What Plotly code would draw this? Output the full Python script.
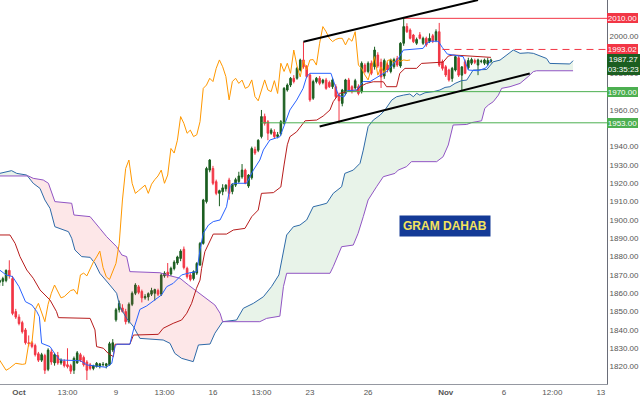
import plotly.graph_objects as go

# ---------------- data (4H bars, index 0 = first bar of Oct 2) ----------------
BAR_START = -6
OPEN = [1866, 1866.5, 1867, 1872.5, 1868, 1850, 1847, 1844, 1840, 1833, 1833, 1831.5, 1827, 1823.5, 1826,
        1818.5, 1828, 1822, 1826, 1822, 1823, 1821, 1820.5, 1818, 1822, 1826.5, 1825, 1822.5, 1821, 1819,
        1820, 1820, 1821, 1820.5, 1821, 1829, 1845.5, 1851, 1852, 1850, 1844.5, 1854, 1860, 1863.5, 1861,
        1857.5, 1858, 1859.5, 1860, 1861.5, 1859.5, 1869.5, 1871.5, 1870.5, 1873.5, 1876.5, 1879, 1884,
        1873.6, 1870, 1868, 1871, 1875.4, 1887.2, 1910, 1927.2, 1928.1, 1920.9, 1914.5, 1915.4, 1917,
        1921.8, 1915.5, 1919, 1921, 1923.5, 1927.2, 1918.5, 1923, 1938.5, 1938, 1945.5, 1956.5, 1953.6,
        1947.3, 1948, 1945.5, 1947, 1952.7, 1970.9, 1973.6, 1977.3, 1977.3, 1981.8, 1987.3, 1983.6, 1979.1,
        1966.4, 1975.5, 1977.3, 1975, 1976.4, 1975, 1972.7, 1972.7, 1968, 1963.6, 1969, 1976.4, 1972.7,
        1972, 1972.7, 1970, 1984.5, 1981, 1985.5, 1983.6, 1990, 1986, 1978.5, 1984.5, 1981, 1983.6, 1988,
        1984, 1996.4, 2005.5, 2003.6, 2000.9, 1996.4, 2001, 1996.4, 1999.1, 1997.3, 2000.5, 1998, 2002.7,
        1986.3, 1983.6, 1981.8, 1977.2, 1981.8, 1988.5, 1979, 1986.3, 1983, 1985.5, 1987, 1984.5, 1986.5,
        1985.5, 1985, 1986.5]
HIGH = [1868, 1869, 1873, 1878, 1869.5, 1851.5, 1848.5, 1845, 1841, 1837, 1834, 1832.5, 1828, 1827.5, 1827,
        1830, 1829.5, 1827.5, 1828, 1824.5, 1824, 1830, 1821.5, 1825.5, 1828.5, 1827.5, 1826, 1823.5, 1822,
        1821, 1822.5, 1822, 1822.5, 1822, 1833.5, 1835, 1852, 1856, 1854, 1851.5, 1855, 1861, 1865.5,
        1864.5, 1862, 1859.5, 1860.5, 1863, 1862.5, 1862.5, 1871, 1872, 1876.5, 1874.5, 1878, 1880.5, 1884,
        1885.5, 1874.5, 1871, 1872.5, 1877, 1888, 1911.5, 1929, 1933.2, 1929.5, 1922, 1916.5, 1919.5,
        1919.5, 1923, 1920, 1923, 1926.3, 1930.5, 1928, 1925, 1940, 1940, 1944, 1960, 1958, 1954.5, 1950,
        1949.5, 1948, 1954.5, 1972.5, 1974.5, 1978, 1979, 1983.5, 1988, 1997.2, 1984.5, 1980, 1976.5, 1978,
        1978.5, 1977, 1977.5, 1976, 1977.5, 1974, 1969.5, 1971.5, 1977, 1977.5, 1973.5, 1977, 1974, 1986.5,
        1985.5, 1986.5, 1987, 1994.5, 1991.5, 1988, 1988, 1986, 1988, 1988.5, 1989.5, 1997, 2010, 2007.3,
        2004.5, 2001.5, 1999.5, 2002.5, 2000, 2000, 2001.8, 2001.5, 2004, 2007.5, 1987.5, 1984.5, 1982.5,
        1983.5, 1990, 1989.5, 1984, 1987.5, 1988.5, 1988.5, 1988, 1988, 1987.5, 1988, 1988.5, 1988]
LOW = [1864, 1864, 1866, 1868, 1848, 1846, 1842.5, 1838, 1832, 1831, 1830, 1825.5, 1822.5, 1822.5, 1816,
       1817.5, 1821, 1820.5, 1821, 1821, 1819.5, 1819, 1816, 1816, 1821.5, 1822.5, 1820, 1812.7, 1818, 1818,
       1819.5, 1819, 1820, 1819, 1820.5, 1828, 1844.5, 1849.5, 1849.5, 1843, 1843.5, 1853, 1859, 1859.5,
       1855, 1856.5, 1856, 1858.5, 1856, 1858.5, 1858.5, 1868.5, 1868.5, 1869.5, 1872.5, 1875.5, 1877.5,
       1873, 1868, 1866.5, 1867, 1870, 1875, 1886.5, 1909, 1926, 1919, 1913.5, 1907.5, 1913.5, 1915.5,
       1911, 1914, 1918, 1920, 1922.5, 1919.5, 1917.5, 1922, 1935.5, 1937, 1944.5, 1951.5, 1943.5, 1946.5,
       1944.5, 1944.5, 1946, 1952, 1970, 1972.5, 1974.5, 1976.5, 1981, 1982.5, 1977.5, 1964.5, 1965.5,
       1974.5, 1973.5, 1974, 1971, 1972, 1971.5, 1966.5, 1952.7, 1962, 1968, 1970, 1969, 1971, 1968, 1969,
       1980, 1980, 1979, 1982, 1983, 1972, 1977, 1980.5, 1980, 1982.5, 1983.5, 1983, 1995, 2002, 1998.5,
       1996.5, 1995.5, 1998.5, 1995.5, 1994.5, 1996.5, 1996.5, 1997, 1983.5, 1981.5, 1978, 1975.5, 1975.4,
       1981, 1978, 1970, 1979.5, 1982, 1984.5, 1985, 1979, 1985.5, 1984.5, 1984, 1985.5]
CLOSE = [1867, 1868, 1872.5, 1869.5, 1849, 1847, 1843.5, 1839, 1833, 1832.5, 1831, 1826.5, 1823.5, 1826.5,
         1818, 1829, 1822.5, 1826.5, 1822, 1823.5, 1820.5, 1820, 1817.5, 1824.5, 1827.5, 1823.5, 1821, 1818,
         1819, 1820.5, 1821.8, 1821.5, 1821.2, 1821.5, 1832.5, 1833, 1851, 1854.5, 1850, 1844.5, 1854, 1860,
         1864.5, 1860.5, 1857.5, 1858.2, 1859.8, 1861.5, 1862, 1859.5, 1870, 1871, 1869.5, 1873.6, 1877,
         1879.8, 1883, 1874, 1869, 1867.5, 1871.8, 1876.3, 1887.2, 1910.9, 1928.1, 1932.7, 1920, 1914.5,
         1916, 1917.5, 1919, 1914.5, 1919.5, 1922, 1924, 1927.2, 1920, 1924.5, 1939, 1936.5, 1943.5, 1956.4,
         1952.7, 1947.3, 1949, 1945.5, 1946.5, 1953.6, 1971.8, 1973.6, 1977.3, 1975.5, 1982.7, 1987.3,
         1983.6, 1978.2, 1965.5, 1975.5, 1977.3, 1974.5, 1976.3, 1971.8, 1972.7, 1976.4, 1967.3, 1965,
         1970.9, 1976.4, 1970.9, 1970, 1976, 1969, 1985.5, 1981, 1985.5, 1980, 1992.7, 1984, 1978, 1987,
         1981.8, 1987.3, 1987.5, 1984.5, 1996.4, 2005.5, 2002.7, 1999.1, 1997.3, 1998.5, 1999.1, 1999.1,
         1995.5, 1999.1, 1997.5, 2002.7, 1984.5, 1982.7, 1979.1, 1976.4, 1982.7, 1989.1, 1979, 1983.5, 1980,
         1987, 1987.5, 1986, 1987.3, 1986.6, 1987.3, 1987, 1987.27]
BARS = list(range(BAR_START, BAR_START + len(CLOSE)))
LAG = 25  # Ichimoku lagging / leading displacement as drawn (26 - 1)

# Ichimoku lines: (bar index, value)
TENKAN_X = [-6, -4, -2, 0, 2, 4, 5.5, 6.3, 7, 9.6, 11, 12.7, 19, 21, 27, 28.7, 29.7, 30.2, 34.3, 35.4, 37.4,
            39.5, 44.1, 45.7, 47.7, 50.3, 52.9, 55, 56, 57, 58.6, 60.1, 62.2, 64.2, 65.3, 66.3, 70.4, 72.5,
            74.5, 75.6, 77.6, 80.7, 82.3, 83.8, 85.9, 87.9, 89, 90, 96.5, 97.5, 98.8, 100.5, 101.5, 104.4,
            106.5, 108.6, 113.7, 117.4, 118.9, 125, 126.1, 127.5, 129.7, 131, 132.5, 137.4, 139, 142, 144.5,
            146]
TENKAN_V = [1872.7, 1870, 1869.1, 1863.6, 1855.4, 1853.6, 1850, 1847.2, 1832.7, 1830.9, 1827.2, 1823.6,
            1823.2, 1820.9, 1819.6, 1821.8, 1830.9, 1832.2, 1832.2, 1840, 1851.2, 1853.1, 1859.1, 1863.6,
            1865.4, 1870, 1871.2, 1871.8, 1883.6, 1892.7, 1897.2, 1899.1, 1900, 1907.2, 1918.2, 1920, 1920,
            1927.2, 1932.7, 1938.2, 1943.6, 1945.4, 1952.7, 1960, 1965.4, 1971.8, 1978.2, 1980, 1980, 1974.5,
            1968, 1967, 1970.5, 1970.9, 1975.5, 1975.5, 1980.9, 1988.2, 1992.7, 1993.6, 1996.4, 1997.5,
            1997.5, 1994, 1990.5, 1989.1, 1981.8, 1981.4, 1983, 1987.2]
KIJUN_X = [-6, -2.8, -1.2, 0.3, 2.4, 4.4, 6.5, 9.6, 11.6, 12.2, 22, 23.5, 24, 26.1, 27.6, 29.2, 29.7, 34.3,
           35.4, 43.1, 44.6, 47.7, 50.3, 51.9, 53.4, 54.9, 56, 56.5, 57.5, 60.1, 64.2, 66.3, 69.9, 72, 74,
           75, 78.7, 81, 82, 83, 83.8, 85.9, 87.9, 88.5, 92.1, 94.1, 96.2, 97.2, 98.3, 99.3, 101.3, 104.4,
           105.5, 107.5, 109.6, 112.7, 113.7, 116.8, 117.3, 117.8, 119.4, 123, 124.5, 130.2, 131.2, 132.8,
           134.3, 146]
KIJUN_V = [1891.8, 1891.8, 1887.2, 1880, 1872.7, 1868.2, 1861.8, 1856.3, 1850, 1846.7, 1846.3, 1840,
           1830.9, 1830, 1827.2, 1825.4, 1832.2, 1832.2, 1837.2, 1837.6, 1840.9, 1843.6, 1845.4, 1849.1,
           1854.5, 1862.7, 1867.2, 1873.6, 1882.7, 1892.3, 1892.3, 1894.5, 1895.4, 1901.8, 1905.4, 1914.5,
           1914.9, 1918, 1930, 1941, 1945.4, 1948.1, 1952.7, 1954.1, 1954.5, 1956.7, 1960, 1964.5, 1967.2,
           1969.1, 1970, 1970.4, 1972.7, 1974.5, 1975.4, 1975.4, 1972.7, 1972.7, 1976.3, 1980, 1982.7,
           1982.7, 1985.4, 1985.8, 1986.1, 1989.4, 1990, 1988.7]
SPAN_A_X = [-6, -2.3, -0.7, 2.4, 4.4, 6.5, 8, 9.6, 11.1, 15.3, 16.3, 17.3, 19.4, 22, 23.5, 25, 28.1, 30.2,
            31.2, 33.3, 35.4, 37.4, 44.6, 46.7, 48.2, 50.3, 53.9, 55.5, 59.1, 60.6, 63, 67.3, 69.4, 72.5,
            75.6, 78.1, 80.4, 82.3, 82.8, 84.9, 86.9, 89, 91, 93.1, 95.2, 97.2, 99.8, 100.8, 103.4, 105.5,
            106.5, 108, 109.6, 111.7, 113.2, 115.3, 116.8, 118.9, 120.9, 122, 123, 124, 125.6, 128.2, 130.2,
            131.8, 133.3, 134.9, 136.9, 138.5, 140.5, 144.7, 146.7, 148.8, 151.9, 152.9, 155, 157.5, 159.1,
            163.2, 164.2, 169.4, 170.4, 171.4]
SPAN_A_V = [1925.4, 1926.9, 1925.4, 1924.5, 1920, 1917.2, 1910.9, 1906.3, 1896.3, 1893.6, 1890, 1883.6,
            1880, 1879.6, 1876.3, 1870.9, 1864.5, 1860, 1852.7, 1846.3, 1841.8, 1835.4, 1834.5, 1832.7,
            1827.2, 1824.5, 1822.7, 1831.8, 1832.3, 1838.2, 1844.5, 1845.4, 1851.8, 1854.5, 1858.1, 1863.6,
            1870, 1887.2, 1891.8, 1896.3, 1897.2, 1900, 1907.2, 1908.1, 1909.1, 1914.5, 1918.1, 1925.4,
            1927.2, 1930.9, 1938.1, 1950.9, 1954.5, 1957.2, 1960, 1965.4, 1967.2, 1968.1, 1968.7, 1967.2,
            1969.1, 1968.1, 1969.4, 1970, 1970.9, 1972.3, 1972.7, 1974.5, 1976, 1976.3, 1981.8, 1982.1,
            1986.3, 1987.2, 1991.2, 1992.7, 1990.9, 1991.2, 1990.9, 1988.1, 1985.4, 1985.4, 1985.1, 1986.9]
SPAN_B_X = [-6, 2.9, 4.4, 7.5, 9.1, 11.1, 16.3, 17, 22, 24, 25, 27.1, 30.2, 31.8, 33.3, 34.3, 43.6, 45.7,
            49.8, 52.4, 55, 58.6, 60.6, 62.2, 63, 74.5, 76.6, 80.7, 81.8, 82.8, 96.2, 97.2, 99.8, 103.4,
            104.9, 106.5, 108, 110.6, 112.7, 116.3, 117.3, 119.9, 121.4, 129.2, 131.2, 132.8, 134.3, 138.5,
            140, 143.1, 144.1, 145.2, 146.7, 148.3, 149.3, 151.9, 155, 157.5, 159.1, 160.1, 171.4]
SPAN_B_V = [1924, 1924, 1922.7, 1921.8, 1920, 1910, 1909.1, 1902.7, 1901.8, 1897.2, 1895.4, 1890.9,
            1885.4, 1880.9, 1880, 1871.8, 1871.2, 1870, 1868.2, 1864.5, 1860.9, 1856.3, 1853.6, 1849.1,
            1844.5, 1844.5, 1846.3, 1847.5, 1863.6, 1870.9, 1870.9, 1874.5, 1885.4, 1886.3, 1892.7, 1901.8,
            1910.9, 1918.1, 1923.6, 1925.4, 1927.2, 1929.1, 1931.8, 1931.8, 1934.5, 1940.9, 1951.8, 1952.1,
            1953.1, 1954.1, 1960.9, 1962.7, 1964.5, 1968.1, 1971.8, 1972.7, 1974.5, 1978.2, 1980.9, 1981.4,
            1981.4]
CLOUD_CROSS_X = [2.9, 63.0]  # where span A and span B swap places

# Horizontal levels drawn on the chart: value, first bar, style
LEVEL_VALUES = [2010.00, 1993.02, 1970.00, 1953.00]
LEVEL_START = [119, 131, 101, 75]
LEVEL_KIND = ["red", "red_dash", "green", "green"]

# Trend lines: (bar, price) endpoints
UPPER_TREND = [(88, 1997.2), (142, 2020.0)]
LOWER_TREND = [(93, 1951.0), (158, 1979.9)]

LAST_PRICE = 1987.27
COUNTDOWN = "03:35:23"

X_TICK_POS = [0, 15, 30, 45, 60, 75, 90, 108, 132, 150, 165, 180]
X_TICK_TEXT = ["<b>Oct</b>", "13:00", "9", "13:00", "16", "13:00", "23", "26", "<b>Nov</b>", "6", "12:00", "13"]
# price ticks visible on the axis (those hidden behind the level labels are left out)
Y_TICK_VALS = [1820, 1830, 1840, 1850, 1860, 1870, 1880, 1890, 1900, 1910, 1920, 1930, 1940, 1960,
               1980, 2000]
Y_TICK_TEXT = ["1820.00", "1830.00", "1840.00", "1850.00", "1860.00", "1870.00", "1880.00", "1890.00",
               "1900.00", "1910.00", "1920.00", "1930.00", "1940.00", "1960.00", "1980.00", "2000.00"]
X_RANGE = [-5.88, 181.9]
Y_RANGE = [1810.5, 2020.0]

# ---------------- styles ----------------
UP = "#1b5e20"
DOWN = "#f23645"
TENKAN_C = "#2962ff"
KIJUN_C = "#b71c1c"
CHIKOU_C = "#ff9800"
SPAN_A_C = "#2e6aa8"
SPAN_B_C = "#9155c4"
PINK_FILL = "rgba(242, 54, 69, 0.12)"
GREEN_FILL = "rgba(67, 160, 71, 0.12)"
LEVEL_COL = {"red": DOWN, "red_dash": DOWN, "green": "#4caf50"}
FONT = "Liberation Sans"

fig = go.Figure()


def poly(xs_top, vs_top, xs_bot, vs_bot):
    return (list(xs_top) + list(reversed(xs_bot)), list(vs_top) + list(reversed(vs_bot)))


def subset(xs, vs, lo, hi):
    pts = [(x, v) for x, v in zip(xs, vs) if lo <= x <= hi]
    return [p[0] for p in pts], [p[1] for p in pts]


c1, c2 = CLOUD_CROSS_X
regions = [
    (-1e9, c1, GREEN_FILL),
    (c1 - 0.5, c2, PINK_FILL),
    (c2, 1e9, GREEN_FILL),
]
for lo, hi, col in regions:
    ax, av = subset(SPAN_A_X, SPAN_A_V, lo, hi)
    bx, bv = subset(SPAN_B_X, SPAN_B_V, lo, hi)
    px, pv = poly(ax, av, bx, bv)
    fig.add_trace(go.Scatter(x=px, y=pv, fill="toself", fillcolor=col, mode="none",
                             hoverinfo="skip", showlegend=False))

fig.add_trace(go.Scatter(x=SPAN_A_X, y=SPAN_A_V, mode="lines", line=dict(color=SPAN_A_C, width=1),
                         hoverinfo="skip", showlegend=False))
fig.add_trace(go.Scatter(x=SPAN_B_X, y=SPAN_B_V, mode="lines", line=dict(color=SPAN_B_C, width=1),
                         hoverinfo="skip", showlegend=False))

# lagging span: closes drawn LAG bars back
fig.add_trace(go.Scatter(x=[b - LAG for b in BARS], y=CLOSE, mode="lines",
                         line=dict(color=CHIKOU_C, width=1), hoverinfo="skip", showlegend=False))
fig.add_trace(go.Scatter(x=KIJUN_X, y=KIJUN_V, mode="lines", line=dict(color=KIJUN_C, width=1),
                         hoverinfo="skip", showlegend=False))
fig.add_trace(go.Scatter(x=TENKAN_X, y=TENKAN_V, mode="lines", line=dict(color=TENKAN_C, width=1),
                         hoverinfo="skip", showlegend=False))

fig.add_trace(go.Candlestick(
    x=BARS, open=OPEN, high=HIGH, low=LOW, close=CLOSE,
    increasing=dict(line=dict(color=UP, width=1), fillcolor=UP),
    decreasing=dict(line=dict(color=DOWN, width=1), fillcolor=DOWN),
    whiskerwidth=0, hoverinfo="skip", showlegend=False))

shapes = []
for val, start, kind in zip(LEVEL_VALUES, LEVEL_START, LEVEL_KIND):
    shapes.append(dict(type="line", xref="x", yref="y", x0=start, x1=X_RANGE[1], y0=val, y1=val,
                       line=dict(color=LEVEL_COL[kind], width=1,
                                 dash="7px,5px" if kind.endswith("dash") else "solid")))
for (xa, ya), (xb, yb) in (UPPER_TREND, LOWER_TREND):
    shapes.append(dict(type="line", xref="x", yref="y", x0=xa, y0=ya, x1=xb, y1=yb,
                       line=dict(color="#000000", width=2)))

annotations = []
for val, kind in zip(LEVEL_VALUES, LEVEL_KIND):
    annotations.append(dict(xref="paper", yref="y", x=1, y=val, xanchor="left", yanchor="middle",
                            text=f"{val:.2f}", showarrow=False, bgcolor=LEVEL_COL[kind],
                            font=dict(color="white", size=8, family=FONT),
                            width=31, height=10, borderpad=0, borderwidth=0, align="center"))
annotations.append(dict(xref="paper", yref="y", x=1, y=LAST_PRICE, xanchor="left", yanchor="top",
                        yshift=6, text=f"{LAST_PRICE:.2f}<br>{COUNTDOWN}", showarrow=False,
                        bgcolor="#1b5e20", font=dict(color="white", size=8, family=FONT),
                        width=31, borderpad=1, borderwidth=0, align="center"))
annotations.append(dict(xref="paper", yref="paper", x=0.733, y=0.411, xanchor="center", yanchor="middle",
                        text="<b>GRAM DAHAB</b>", showarrow=False, bgcolor="#143a96",
                        font=dict(color="#f3e35c", size=12, family=FONT), borderpad=3))

fig.update_layout(
    width=640, height=397,
    margin=dict(l=0, r=33, t=0, b=13),
    paper_bgcolor="white", plot_bgcolor="white",
    shapes=shapes, annotations=annotations,
    xaxis=dict(range=X_RANGE, tickvals=X_TICK_POS, ticktext=X_TICK_TEXT, showgrid=False, zeroline=False,
               showline=True, linecolor="#9598a1", linewidth=1, ticks="", rangeslider=dict(visible=False),
               tickfont=dict(size=8, color="#555555", family=FONT), fixedrange=True),
    yaxis=dict(range=Y_RANGE, side="right", tickvals=Y_TICK_VALS, ticktext=Y_TICK_TEXT, showgrid=False,
               zeroline=False, showline=True, linecolor="#6a6d78", linewidth=1, ticks="",
               tickfont=dict(size=8, color="#555555", family=FONT), fixedrange=True),
)

fig.write_html("out.html", config={"displayModeBar": False},
               post_script="document.body.style.margin='0px';")
